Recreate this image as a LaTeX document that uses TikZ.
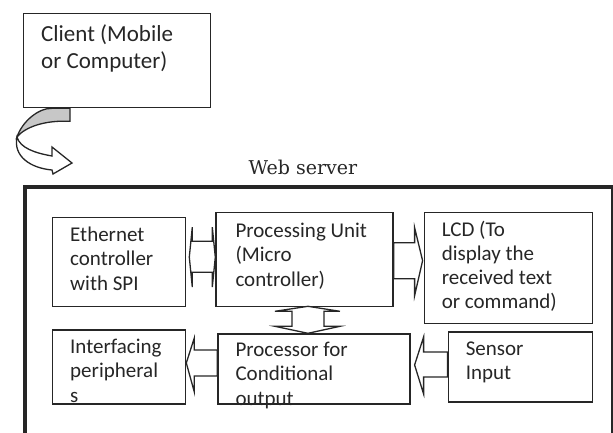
\documentclass[tikz,border=0pt]{standalone}
\usepackage{fontspec}
\setmainfont{Carlito}
\newfontfamily\serverfont{DejaVu Serif}
\usetikzlibrary{positioning,calc}

\tikzset{
    blk/.style={draw=black!85, line width=1.3pt, rectangle, inner sep=0pt, anchor=north west},
    boxtext/.style={anchor=base west, align=left, inner sep=0pt, text=black!85, font=\fontsize{21}{24.5}\selectfont},
    barrow/.style={draw=black!85, line width=1.3pt, fill=white, line join=miter},
}

\begin{document}
\begin{tikzpicture}[x=1pt, y=-1pt]
    \useasboundingbox (0,0) rectangle (613,432);

    \node[blk, minimum width=187pt, minimum height=94pt] (client) at (23,13) {};
    \node[boxtext, font=\fontsize{23}{27}\selectfont] (clientText) at ($(client.north west)+(18,55)$) {Client (Mobile\\or Computer)};

    \node[blk, line width=3.5pt, minimum width=588pt, minimum height=280pt] (webServer) at (23,185) {};
    \node[text=black!85, font=\serverfont\fontsize{19}{21}\selectfont] (webServerLabel) at (303,167) {Web server};

    \node[blk, minimum width=133pt, minimum height=89pt] (ethernet) at (52,217) {};
    \node[blk, minimum width=177pt, minimum height=94pt, right=29pt of ethernet.north east, anchor=north west, yshift=5pt] (procUnit) {};
    \node[blk, minimum width=168pt, minimum height=111pt, right=30pt of procUnit.north east, anchor=north west] (lcd) {};
    \node[blk, minimum width=133pt, minimum height=74pt, below=22pt of ethernet.south west, anchor=north west] (interfacing) {};
    \node[blk, minimum width=192pt, minimum height=70pt, below right=26pt and 2pt of procUnit.south west] (condProc) {};
    \node[blk, minimum width=144pt, minimum height=70pt, right=37pt of condProc.north east, anchor=north west, yshift=2pt] (sensor) {};

    \node[boxtext] (ethernetText) at ($(ethernet.north west)+(18,73)$) {Ethernet\\controller\\with SPI};
    \node[boxtext] (procUnitText) at ($(procUnit.north west)+(20,74)$) {Processing Unit\\(Micro\\controller)};
    \node[boxtext, font=\fontsize{21}{23.7}\selectfont] (lcdText) at ($(lcd.north west)+(18,96)$) {LCD (To\\display the\\received text\\or command)};
    \node[boxtext] (interfacingText) at ($(interfacing.north west)+(18,73)$) {Interfacing\\peripheral\\s};
    \node[boxtext] (condProcText) at ($(condProc.north west)+(18,72)$) {Processor for\\Conditional\\output};
    \node[boxtext] (sensorText) at ($(sensor.north west)+(18,48.5)$) {Sensor\\Input};

    \coordinate (turnPoint) at (17,137);
    \coordinate (arrowTip) at (72,163);
    \draw[barrow, fill=black!22] ($(client.south west)+(47,0)$) -- ++(0,13) .. controls (45,120) and (25,127) .. (turnPoint) .. controls (22,122) and (38,108) .. ($(client.south west)+(29,0)$) -- cycle;
    \draw[barrow] (turnPoint) .. controls (20,148) and (35,153) .. (52,156) -- (52,147) -- (arrowTip) -- (53,174) -- (52,170) .. controls (30,168) and (13,156) .. (turnPoint) -- cycle;

    \draw[barrow] ($(ethernet.east)+(3,-5)$) -- ++(3,-30) -- ++(0,14) -- ++(20,0) -- ++(0,-14) -- ++(3,30) -- ++(-3,30) -- ++(0,-15) -- ++(-20,0) -- ++(0,15) -- cycle;
    \draw[barrow] ($(procUnit.east)+(0,-17)$) -- ++(21,0) -- ++(0,-15) -- ++(8,33) -- ++(-8,35) -- ++(0,-17) -- ++(-21,0) -- cycle;
    \draw[barrow] ($(procUnit.south)+(3.5,-1)$) -- ++(-33,5) -- ++(17,0) -- ++(0,15) -- ++(-17,0) -- ++(33,7) -- ++(32,-7) -- ++(-16,0) -- ++(0,-15) -- ++(16,0) -- cycle;
    \draw[barrow] ($(condProc.west)+(0,-19)$) -- ++(-23,0) -- ++(0,-12) -- ++(-8,25) -- ++(8,29) -- ++(0,-16) -- ++(23,0) -- cycle;
    \draw[barrow] ($(sensor.west)+(0,-15)$) -- ++(-24,0) -- ++(0,-15) -- ++(-9,28) -- ++(9,29) -- ++(0,-17) -- ++(24,0) -- cycle;
\end{tikzpicture}
\end{document}
